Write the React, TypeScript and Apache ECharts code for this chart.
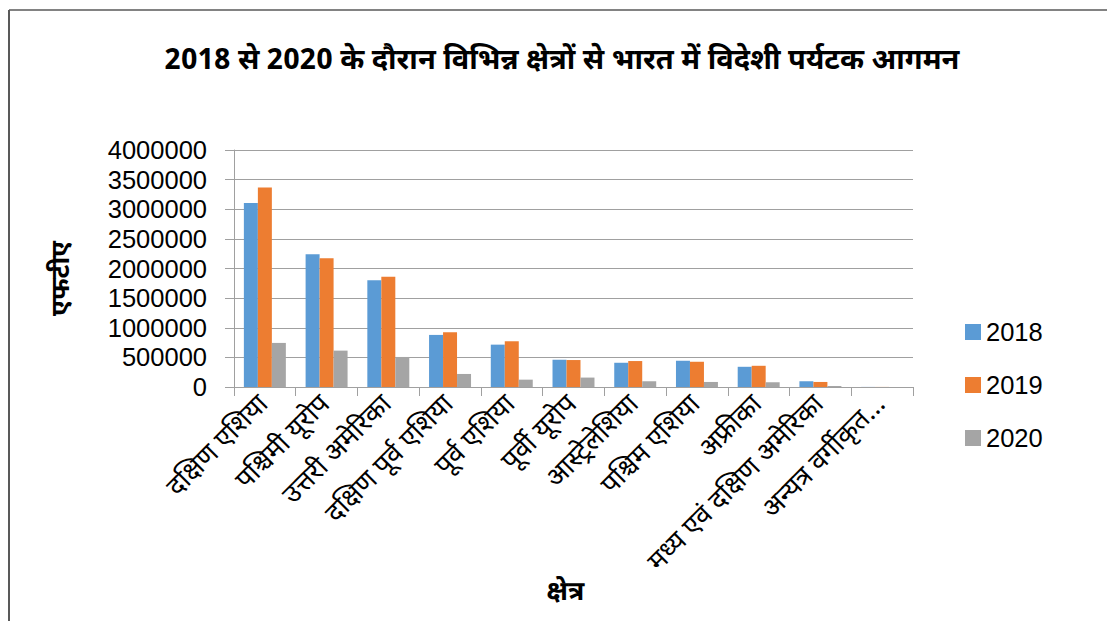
import React, { useEffect, useRef } from "react";
import * as echarts from "echarts";

const TITLE = "2018 से 2020 के दौरान विभिन्न क्षेत्रों से भारत में विदेशी पर्यटक आगमन";
const Y_NAME = "एफटीए";
const X_NAME = "क्षेत्र";

const categories = [
  "दक्षिण एशिया",
  "पश्चिमी यूरोप",
  "उत्तरी अमेरिका",
  "दक्षिण पूर्व एशिया",
  "पूर्व एशिया",
  "पूर्वी यूरोप",
  "आस्ट्रेलेशिया",
  "पश्चिम एशिया",
  "अफ्रीका",
  "मध्य एवं दक्षिण अमेरिका",
  "अन्यत्र वर्गीकृत...",
];

const seriesNames = ["2018", "2019", "2020"];

const values2018 = [3104000, 2242000, 1803000, 879000, 715000, 460000, 409000, 443000, 341000, 97000, 1500];
const values2019 = [3368000, 2175000, 1859000, 924000, 772000, 455000, 438000, 426000, 358000, 85000, 1200];
const values2020 = [744000, 614000, 507000, 220000, 124000, 159000, 97000, 85000, 80000, 17000, 300];

const colors = ["#5B9BD5", "#ED7D31", "#A5A5A5"];

const FONT = '"Noto Sans Devanagari", "Lohit Devanagari", "Noto Sans", "Open Sans", sans-serif';
const NUM_FONT = '"Liberation Sans", Arial, sans-serif';

export default function App() {
  const ref = useRef<HTMLDivElement>(null);

  useEffect(() => {
    if (!ref.current) return;
    const chart = echarts.init(ref.current, null, { renderer: "svg" });
    const data = [values2018, values2019, values2020];
    chart.setOption({
      animation: false,
      backgroundColor: "#ffffff",
      textStyle: { fontFamily: FONT },
      title: {
        text: TITLE,
        left: 557,
        textAlign: "center",
        top: 42,
        textStyle: { fontFamily: FONT, fontSize: 29, fontWeight: "bold", color: "#000" },
      },
      legend: {
        orient: "vertical",
        left: 960,
        top: 314,
        itemWidth: 16,
        itemHeight: 16,
        itemGap: 27,
        icon: "rect",
        textStyle: { fontFamily: NUM_FONT, fontSize: 25.5, color: "#000" },
        data: seriesNames,
      },
      grid: { left: 234, right: 194, top: 150, bottom: 234, containLabel: false },
      xAxis: {
        type: "category",
        data: categories,
        name: X_NAME,
        nameLocation: "middle",
        nameGap: 193,
        nameTextStyle: { fontFamily: FONT, fontSize: 27, fontWeight: "bold", color: "#000", padding: [0, 16, 0, 0] },
        axisLine: { show: true, lineStyle: { color: "#A0A0A0", width: 1 } },
        axisTick: { show: true, length: 9, lineStyle: { color: "#A0A0A0" } },
        axisLabel: {
          rotate: 45,
          interval: 0,
          margin: 14,
          fontFamily: FONT,
          fontSize: 27,
          color: "#000",
        },
      },
      yAxis: {
        type: "value",
        min: 0,
        max: 4000000,
        interval: 500000,
        name: Y_NAME,
        nameLocation: "middle",
        nameRotate: 90,
        nameGap: 158,
        nameTextStyle: { fontFamily: FONT, fontSize: 26, fontWeight: "bold", color: "#000", padding: [0, 20, 0, 0] },
        axisLine: { show: true, lineStyle: { color: "#A0A0A0", width: 1 } },
        axisTick: { show: true, length: 9, lineStyle: { color: "#A0A0A0" } },
        splitLine: { show: true, lineStyle: { color: "#A0A0A0", width: 1 } },
        axisLabel: {
          margin: 27,
          fontFamily: NUM_FONT,
          fontSize: 25.5,
          color: "#000",
          formatter: (v: number) => String(v),
        },
      },
      series: seriesNames.map((name, i) => ({
        name,
        type: "bar",
        data: data[i],
        barGap: "0%",
        barCategoryGap: "32%",
        itemStyle: { color: colors[i] },
      })),
      graphic: [
        { type: "line", shape: { x1: 9, y1: 10, x2: 1107, y2: 10 }, style: { stroke: "#595959", lineWidth: 1.5 } },
        { type: "line", shape: { x1: 9, y1: 10, x2: 9, y2: 621 }, style: { stroke: "#595959", lineWidth: 2 } },
      ],
    });
    return () => chart.dispose();
  }, []);

  return (
    <div
      ref={ref}
      style={{ position: "absolute", left: 0, top: 0, width: 1107, height: 621 }}
    />
  );
}
